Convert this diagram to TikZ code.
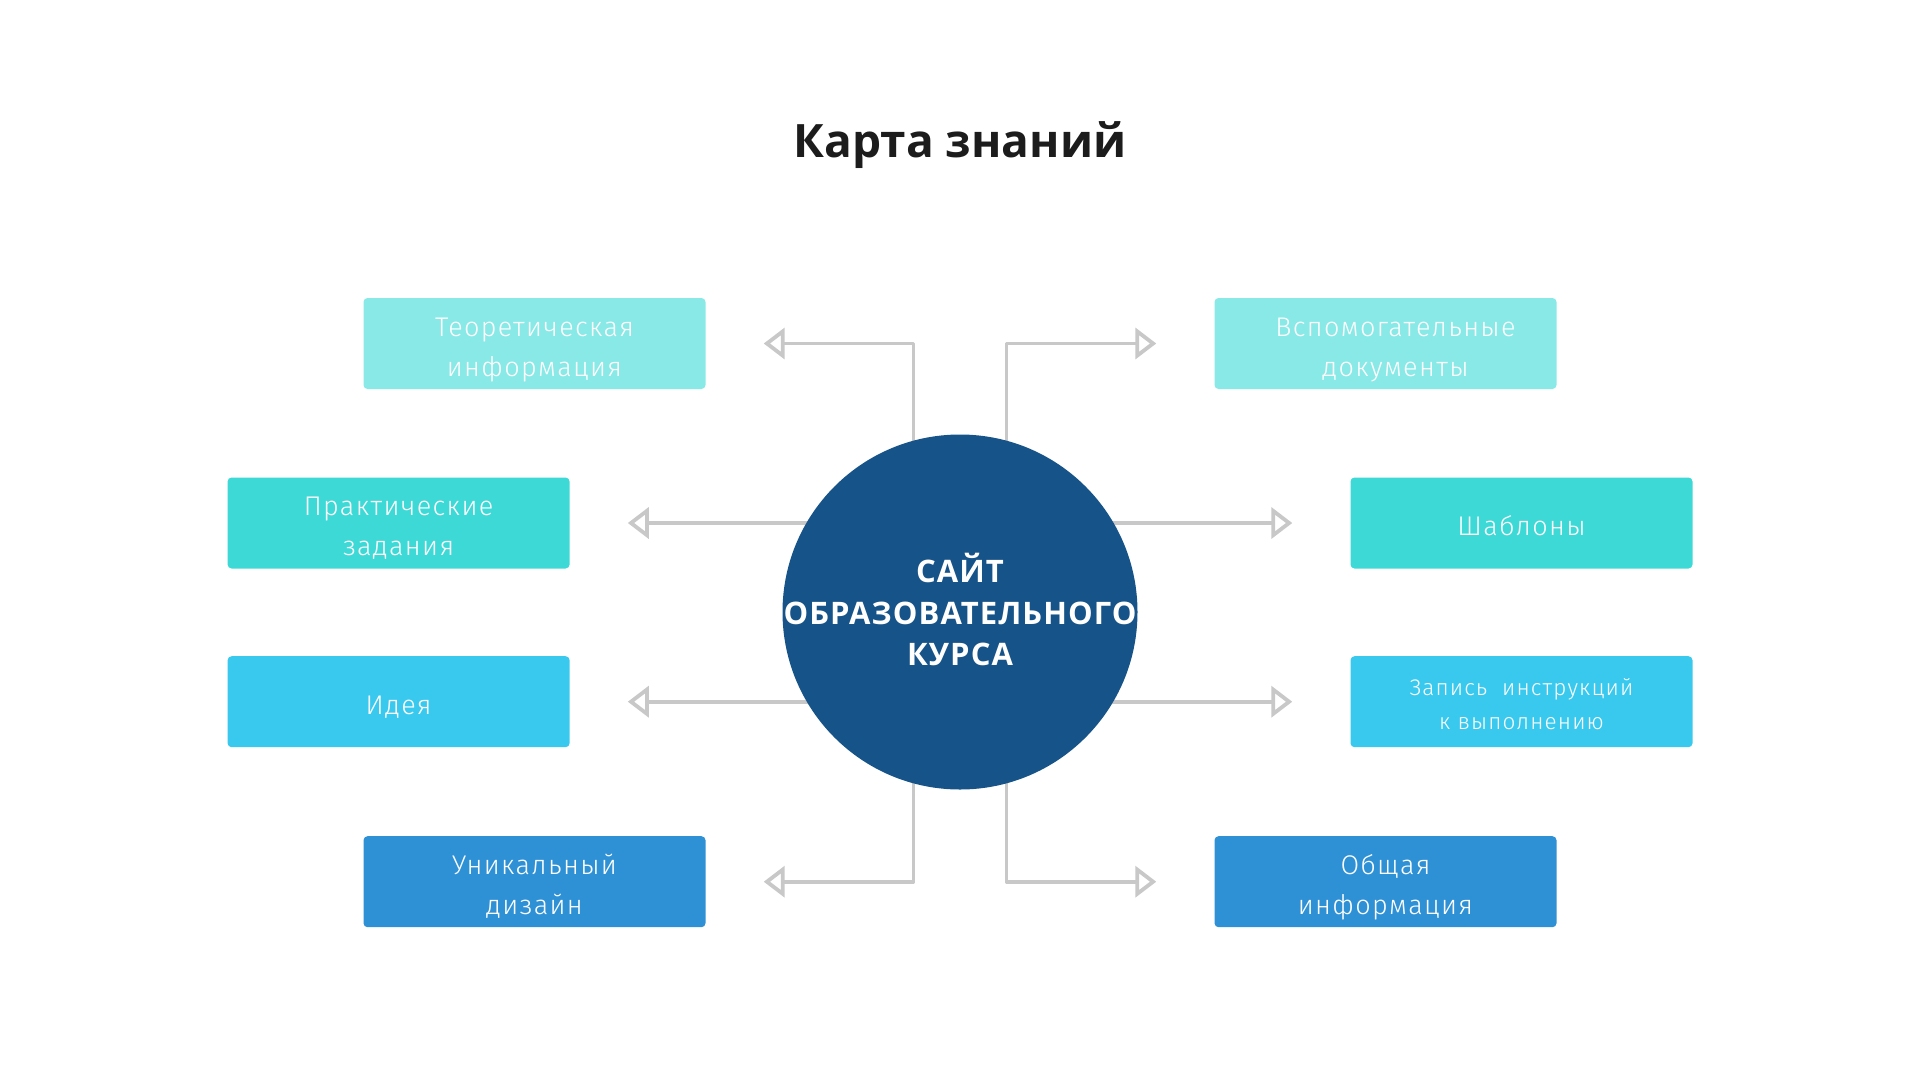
\documentclass[tikz,border=0pt]{standalone}
\usepackage{fontspec}
\setmainfont{Open Sans}
\newfontfamily\titlefont{Open Sans}
\newfontfamily\labelfont[LetterSpace=5]{Fira Sans Light}
\newfontfamily\hubfont[LetterSpace=3.5]{Open Sans}
\usetikzlibrary{positioning}
\usetikzlibrary{arrows.meta}
\usetikzlibrary{backgrounds}
\definecolor{paleCyan}{HTML}{88E9E7}
\definecolor{midCyan}{HTML}{3DD9D6}
\definecolor{skyBlue}{HTML}{39C9EF}
\definecolor{midBlue}{HTML}{2E91D6}
\definecolor{deepBlue}{HTML}{165388}
\definecolor{lineGray}{HTML}{C8C8C8}
\definecolor{titleBlack}{HTML}{1C1C1C}

\tikzset{
    topic/.style={rectangle, rounded corners=4pt, minimum width=\boxWidth pt, minimum height=\boxHeight pt, inner sep=0pt, align=center, text=white, font=\labelfont\fontsize{27}{40}\selectfont, text height=27pt, text depth=2pt},
    twoline/.style={text height=67pt},
    link/.style={draw=lineGray, line width=3.8pt, -{Triangle[open, length=21pt, width=31pt]}, shorten >=58pt, line join=round},
}

\begin{document}
\begin{tikzpicture}[x=1pt, y=-1pt]
    \pgfmathsetmacro{\boxWidth}{342}
    \pgfmathsetmacro{\boxHeight}{91}
    \pgfmathsetmacro{\stemShift}{46.5}

    \useasboundingbox (0,0) rectangle (1920,1080);

    \node (title) [anchor=base, text=titleBlack, font=\titlefont\bfseries\fontsize{46}{55}\selectfont] at (960,157) {Карта знаний};

    \node (hub) [circle, fill=deepBlue, minimum size=355pt, inner sep=-20pt, align=center, text=white, text depth=5pt, font=\hubfont\bfseries\fontsize{31}{41.5}\selectfont] at (960,612) {САЙТ\\ОБРАЗОВАТЕЛЬНОГО\\КУРСА};

    % left column
    \node (theory) [topic, twoline, fill=paleCyan] at (534.5,343.5) {Теоретическая\\информация};
    \node (tasks) [topic, twoline, fill=midCyan] at (398.6,523) {Практические\\задания};
    \node (idea) [topic, fill=skyBlue] at (398.6,701.7) {Идея};
    \node (design) [topic, twoline, fill=midBlue] at (534.5,881.7) {Уникальный\\дизайн};

    % right column
    \node (docs) [topic, twoline, fill=paleCyan] at (1385.5,343.5) {\hspace*{20pt}Вспомогательные\\\hspace*{20pt}документы};
    \node (templates) [topic, fill=midCyan] at (1521.5,523) {Шаблоны};
    \node (notes) [topic, fill=skyBlue, font=\labelfont\fontsize{22.5}{34}\selectfont, text height=56.5pt, text depth=1pt] at (1521.5,701.7) {Запись\ \ инструкций\\к выполнению};
    \node (general) [topic, twoline, fill=midBlue] at (1385.5,881.7) {Общая\\информация};

    \begin{scope}[on background layer]
        \draw [link] ([xshift=-\stemShift pt]hub.center) |- (theory.east);
        \draw [link] (hub.center |- tasks.east) -- (tasks.east);
        \draw [link] (hub.center |- idea.east) -- (idea.east);
        \draw [link] ([xshift=-\stemShift pt]hub.center) |- (design.east);

        \draw [link] ([xshift=\stemShift pt]hub.center) |- (docs.west);
        \draw [link] (hub.center |- templates.west) -- (templates.west);
        \draw [link] (hub.center |- notes.west) -- (notes.west);
        \draw [link] ([xshift=\stemShift pt]hub.center) |- (general.west);
    \end{scope}

\end{tikzpicture}
\end{document}
